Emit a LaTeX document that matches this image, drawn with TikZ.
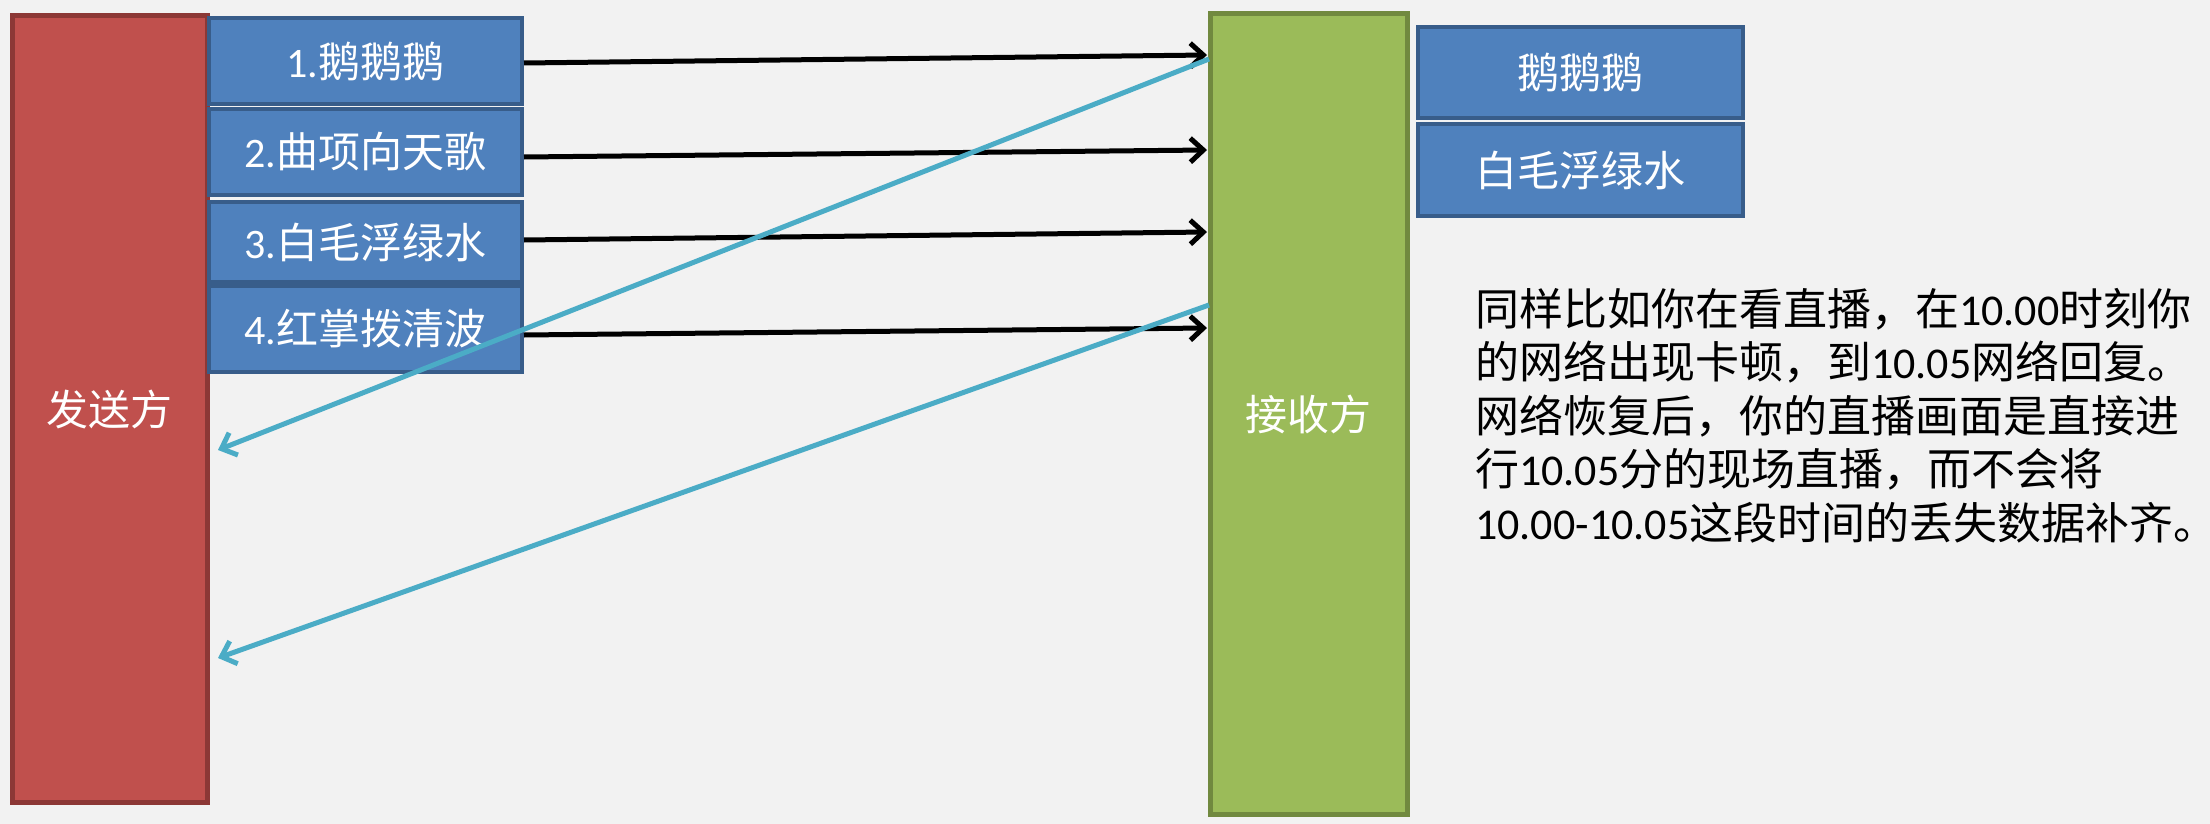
\documentclass[tikz,border=0pt]{standalone}
\usepackage{fontspec}
\setmainfont{Carlito}
\newfontfamily\cjk{Noto Sans CJK SC}
\usetikzlibrary{arrows.meta,calc}
\definecolor{bgc}{HTML}{F2F2F2}
\definecolor{redf}{HTML}{C0504D}
\definecolor{redd}{HTML}{8C3836}
\definecolor{bluef}{HTML}{4F81BD}
\definecolor{blued}{HTML}{385D8A}
\definecolor{greenf}{HTML}{9BBB59}
\definecolor{greend}{HTML}{71893F}
\definecolor{cyanl}{HTML}{4BACC6}
\begin{document}
\begin{tikzpicture}[x=1pt,y=-1pt,
  box/.style={draw, rectangle, inner sep=0pt, text=white, font=\fontsize{42}{50}\selectfont, line width=4pt},
  party/.style={box, line width=5pt},
  msgbox/.style={box, fill=bluef, draw=blued},
  blk/.style={draw=black, line width=5pt, -{Straight Barb[length=13pt,width=24pt]}},
  ack/.style={draw=cyanl, line width=5pt, -{Straight Barb[length=13pt,width=24pt]}},
]
\fill[bgc] (0,0) rectangle (2210,824);
\useasboundingbox (0,0) rectangle (2210,824);

\node[party, fill=redf, draw=redd, minimum width=195pt, minimum height=786pt] (send) at (109.5,409) {\cjk 发送方};
\node[party, fill=greenf, draw=greend, minimum width=197pt, minimum height=800pt] (recv) at (1308.5,414) {\cjk 接收方};

\node[msgbox, minimum width=313pt, minimum height=86pt] (b1) at (365.5,61) {1.{\cjk 鹅鹅鹅}};
\node[msgbox, minimum width=313pt, minimum height=86pt] (b2) at (365.5,152) {2.{\cjk 曲项向天歌}};
\node[msgbox, minimum width=313pt, minimum height=80pt] (b3) at (365.5,242) {3.{\cjk 白毛浮绿水}};
\node[msgbox, minimum width=313pt, minimum height=86pt] (b4) at (365.5,329) {4.{\cjk 红掌拨清波}};

\node[msgbox, minimum width=325pt, minimum height=91pt] (ra) at (1580.5,72.5) {\cjk 鹅鹅鹅};
\node[msgbox, minimum width=325pt, minimum height=92pt] (rb) at (1580.5,170) {\cjk 白毛浮绿水};

\coordinate (e1) at (1207,55);
\coordinate (e2) at (1207,150);
\coordinate (e3) at (1207,232);
\coordinate (e4) at (1207,328);
\coordinate (c1) at (1209,59);
\coordinate (c2) at (1209,305);
\coordinate (t1) at (218,450);
\coordinate (t2) at (218,658);

\draw[blk] ($(b1.east)+(0,2)$) -- (e1);
\draw[blk] ($(b2.east)+(0,5)$) -- (e2);
\draw[blk] ($(b3.east)+(0,-2)$) -- (e3);
\draw[blk] ($(b4.east)+(0,6)$) -- (e4);

\draw[ack] (c1) -- (t1);
\draw[ack] (c2) -- (t2);

\node[anchor=north west, inner sep=0pt, align=left, font=\fontsize{44}{53.5}\selectfont] (note) at (1475,288) {%
{\cjk 同样比如你在看直播，在}10.00{\cjk 时刻你}\\
{\cjk 的网络出现卡顿，到}10.05{\cjk 网络回复。}\\
{\cjk 网络恢复后，你的直播画面是直接进}\\
{\cjk 行}10.05{\cjk 分的现场直播，而不会将}\\
10.00-10.05{\cjk 这段时间的丢失数据补齐。}};
\end{tikzpicture}
\end{document}
